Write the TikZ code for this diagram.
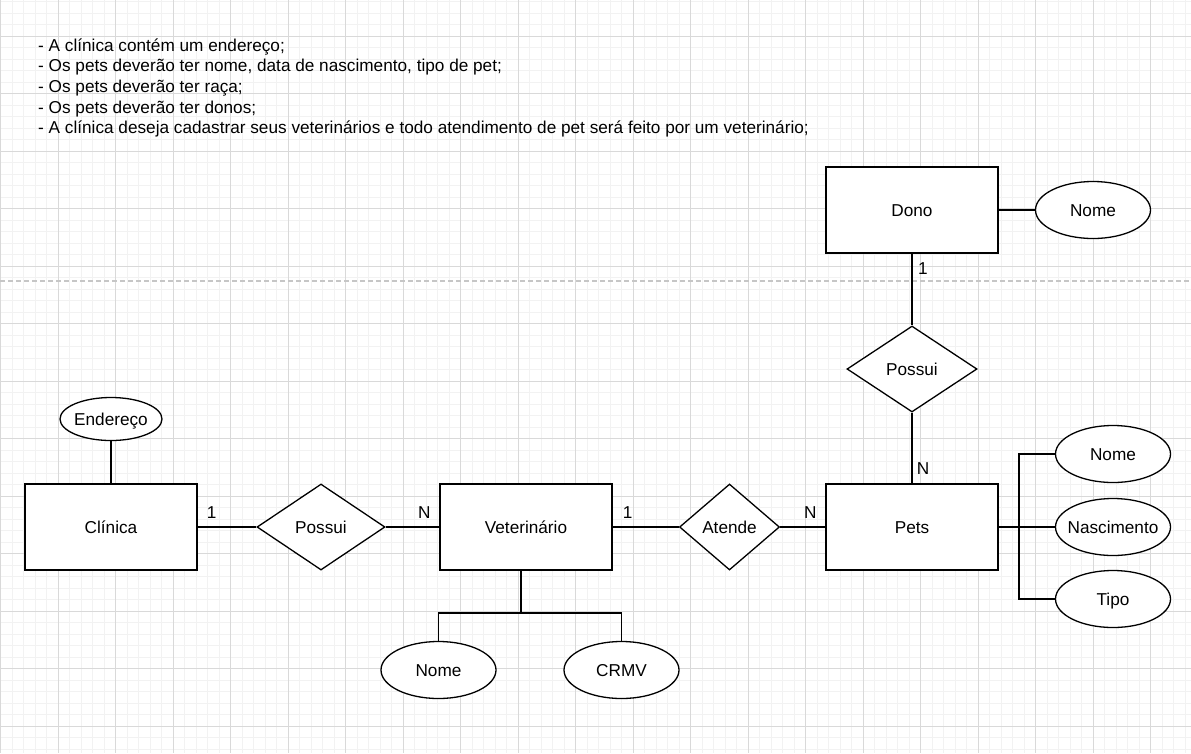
\documentclass[tikz,border=0pt]{standalone}
\usepackage{fontspec}
\setmainfont{Liberation Sans}
\usetikzlibrary{shapes.geometric}

\tikzset{
  gridminor/.style={gray!10, line width=0.8pt},
  gridmajor/.style={gray!30, line width=0.8pt},
  erbox/.style={draw, fill=white, line width=1.3pt, text height=12.3pt, text depth=0pt},
  entity/.style={erbox, minimum width=172pt, minimum height=86pt, inner sep=0pt},
  relation/.style={erbox, diamond, inner sep=0pt},
  attrib/.style={erbox, ellipse, inner sep=-6pt, minimum width=115pt, minimum height=57pt},
  card/.style={inner sep=0pt, text height=12.3pt, text depth=0pt},
  link/.style={line width=1.3pt},
}

\begin{document}
\begin{tikzpicture}[x=1pt, y=-1pt, every node/.style={font=\fontsize{17.2}{20.7}\selectfont}]

\useasboundingbox (0,0) rectangle (1191,753);

% grid
 \foreach \i in {0,1,...,103}{%
     \draw[gridminor] ({0.8 + 11.5*\i},0) -- ({0.8 + 11.5*\i},753);
  }
 \foreach \j in {0,1,...,65}{%
     \draw[gridminor] (0,{1.5 + 11.5*\j}) -- (1191,{1.5 + 11.5*\j});
  }
 \foreach \i in {0,1,...,20}{%
     \draw[gridmajor] ({0.8 + 57.5*\i},0) -- ({0.8 + 57.5*\i},753);
  }
 \foreach \j in {1,2,...,13}{%
     \draw[gridmajor] (0,{-21.5 + 57.5*\j}) -- (1191,{-21.5 + 57.5*\j});
  }

 \draw[gray!45, line width=1.2pt, dash pattern=on 5pt off 3pt] (0,281) -- (1191,281);

% requisitos
 \node[anchor=west, align=left, inner sep=0pt] (req) at (38,88) {%
   - A clínica contém um endereço;\\
   - Os pets deverão ter nome, data de nascimento, tipo de pet;\\
   - Os pets deverão ter raça;\\
   - Os pets deverão ter donos;\\
   - A clínica deseja cadastrar seus veterinários e todo atendimento de pet será feito por um veterinário;};

% entidades e relacionamentos
 \node[entity] (clinica) at (111,527) {Clínica};
 \node[attrib, minimum width=102pt, minimum height=43pt] (endereco) at (111,419) {Endereço};
 \node[relation, minimum width=128pt, minimum height=86pt] (possuiA) at (321,527) {Possui};
 \node[entity] (vet) at (526,527) {Veterinário};
 \node[relation, minimum width=100pt, minimum height=86pt] (atende) at (729.5,527) {Atende};
 \node[entity] (pets) at (912,527) {Pets};
 \node[entity] (dono) at (912,210) {Dono};
 \node[attrib] (dnome) at (1093,210) {Nome};
 \node[relation, minimum width=130pt, minimum height=86pt] (possuiB) at (912,369) {Possui};

 \node[attrib] (pnome) at (1113,454) {Nome};
 \node[attrib] (pnasc) at (1113,527) {Nascimento};
 \node[attrib] (ptipo) at (1113,599) {Tipo};

 \node[attrib] (vnome) at (438.5,670) {Nome};
 \node[attrib] (crmv) at (621.5,670) {CRMV};

 \coordinate (vj) at (521,613);
 \coordinate (pj) at (1019,527);

% ligacoes
 \draw[link] (endereco) -- (clinica);
 \draw[link] (clinica) -- (possuiA);
 \draw[link] (possuiA) -- (vet);
 \draw[link] (vet) -- (atende);
 \draw[link] (atende) -- (pets);
 \draw[link] (dono) -- (dnome);
 \draw[link] (dono) -- (possuiB);
 \draw[link] (possuiB) -- (pets);

 \draw[link] (vet.south -| vj) -- (vj);
 \draw[link] (vj) -| (vnome.north);
 \draw[link] (vj) -| (crmv.north);

 \draw[link] (pets.east) -- (pj);
 \draw[link] (pj) |- (pnome.west);
 \draw[link] (pj) -- (pnasc.west);
 \draw[link] (pj) |- (ptipo.west);

% cardinalidades
 \node[card, xshift=14pt, yshift=15pt] (c1) at (clinica.east) {1};
 \node[card, xshift=-15pt, yshift=15pt] (c2) at (vet.west) {N};
 \node[card, xshift=15pt, yshift=15pt] (c3) at (vet.east) {1};
 \node[card, xshift=-15pt, yshift=15pt] (c4) at (pets.west) {N};
 \node[card, xshift=11pt, yshift=-15pt] (c5) at (dono.south) {1};
 \node[card, xshift=11pt, yshift=15pt] (c6) at (pets.north) {N};

\end{tikzpicture}
\end{document}
